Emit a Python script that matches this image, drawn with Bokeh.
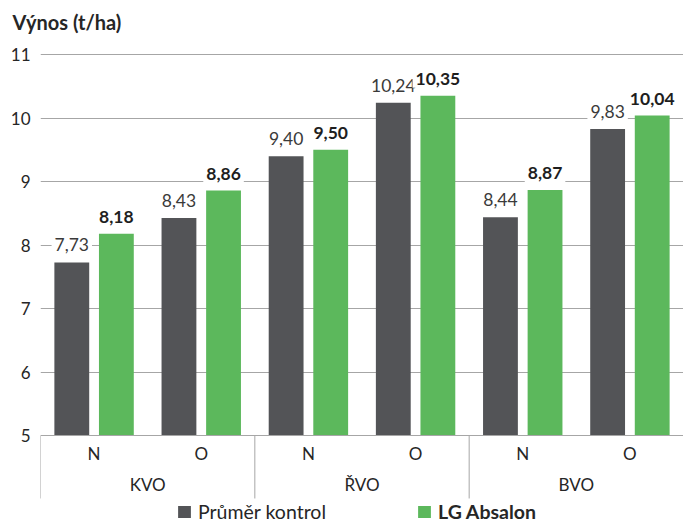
from bokeh.plotting import figure
from bokeh.models import (ColumnDataSource, FactorRange, Range1d, FixedTicker, Legend,
                          LegendItem, CategoricalAxis)
from bokeh.transform import dodge
from bokeh.core.properties import value
from bokeh.embed import file_html
from bokeh.resources import INLINE

# ---- data ----
regions = ["KVO", "ŘVO", "BVO"]
variants = ["N", "O"]
kontrol = [7.73, 8.43, 9.40, 10.24, 8.44, 9.83]
absalon = [8.18, 8.86, 9.50, 10.35, 8.87, 10.04]
y_ticks = [5, 6, 7, 8, 9, 10, 11]
series_names = ["Průměr kontrol", "LG Absalon"]
y_title = "Výnos (t/ha)"

# ---- style ----
FONT_NAME = "Lato"
FONT = value(FONT_NAME)
GRAY = "#535457"
GREEN = "#5cb85c"
GRID = "#a6a6a6"
TXT = "#262626"

PX_PER_UNIT = 63.58          # vertical scale in px per t/ha
TOP_BORDER = 40              # px above the frame
TOP_PAD = 14                 # px between frame top and the highest gridline
FRAME_H = 524 - TOP_BORDER   # frame reaches the bottom of the canvas
y_base = y_ticks[0]
y_top = y_ticks[-1] + TOP_PAD / PX_PER_UNIT
y_bottom = y_top - FRAME_H / PX_PER_UNIT
sep_bottom = y_base - 62.5 / PX_PER_UNIT

factors = [(r, v) for r in regions for v in variants]


def fmt(v):
    return f"{v:.2f}".replace(".", ",")


src = ColumnDataSource(dict(
    x=factors, k=kontrol, a=absalon,
    kl=[fmt(v) for v in kontrol], al=[fmt(v) for v in absalon],
))

p = figure(
    width=683, height=524,
    x_range=FactorRange(*factors, factor_padding=0, group_padding=0, range_padding=0),
    y_range=Range1d(y_bottom, y_top),
    output_backend="svg", toolbar_location=None,
    x_axis_location=None,
    min_border_left=40, min_border_right=0, min_border_top=TOP_BORDER, min_border_bottom=0,
)
p.outline_line_color = None
p.background_fill_color = "white"

# y axis
p.yaxis.ticker = FixedTicker(ticks=y_ticks)
p.yaxis.axis_line_color = None
p.yaxis.major_tick_line_color = None
p.yaxis.minor_tick_line_color = None
p.yaxis.major_tick_out = 0
p.yaxis.major_label_standoff = 10
p.yaxis.major_label_text_font = FONT_NAME
p.yaxis.major_label_text_font_size = "17px"
p.yaxis.major_label_text_color = TXT
p.ygrid.ticker = FixedTicker(ticks=y_ticks)
p.ygrid.grid_line_color = GRID
p.xgrid.grid_line_color = None

# x axis (categorical, drawn at y = 5)
xaxis = CategoricalAxis(
    fixed_location=y_base,
    axis_line_color=GRID,
    major_tick_line_color=None, minor_tick_line_color=None,
    major_tick_out=0,
    major_label_standoff=7,
    major_label_text_font=FONT_NAME, major_label_text_font_size="17px",
    major_label_text_color=TXT,
    group_text_font=FONT_NAME, group_text_font_size="17px",
    group_text_font_style="normal", group_text_color=TXT,
    separator_line_color=None,
)
p.add_layout(xaxis, "below")

# separators between groups
sep_x = [i * len(variants) for i in range(len(regions))]
p.segment(x0=sep_x, y0=[y_base] * len(sep_x), x1=sep_x, y1=[sep_bottom] * len(sep_x),
          line_color=GRID, line_width=1)

# bars
OFF = 0.208
W = 0.325
r1 = p.vbar(x=dodge("x", -OFF, range=p.x_range), top="k", bottom=y_base, width=W,
            source=src, fill_color=GRAY, line_color=None)
r2 = p.vbar(x=dodge("x", OFF, range=p.x_range), top="a", bottom=y_base, width=W,
            source=src, fill_color=GREEN, line_color=None)

# value labels
p.text(x=dodge("x", -OFF, range=p.x_range), y="k", text="kl", source=src,
       text_font=FONT, text_font_size="17.5px", text_color="#3a3a3a",
       text_align="center", text_baseline="bottom", y_offset=-8,
       background_fill_color="white", padding=3)
p.text(x=dodge("x", OFF, range=p.x_range), y="a", text="al", source=src,
       text_font=FONT, text_font_size="17.5px", text_font_style="bold",
       text_color="#1e1e1e",
       text_align="center", text_baseline="bottom", y_offset=-8,
       background_fill_color="white", padding=3)

# title
p.title.text = y_title
p.title.align = "left"
p.title.offset = -28
p.title.text_font = FONT_NAME
p.title.text_font_size = "20px"
p.title.text_font_style = "bold"
p.title.text_color = TXT
p.title.standoff = 14

# legends (two, so only the second is bold)
common = dict(orientation="horizontal", border_line_color=None, background_fill_alpha=0,
              padding=0, margin=0, glyph_width=16, glyph_height=15, label_standoff=6,
              label_height=20, label_text_line_height=1.0,
              label_text_font=FONT_NAME, label_text_font_size="19.5px", label_text_color=TXT)
leg1 = Legend(items=[LegendItem(label=series_names[0], renderers=[r1])],
              location=(136, 1), **common)
leg2 = Legend(items=[LegendItem(label=series_names[1], renderers=[r2])],
              location=(376, 1), label_text_font_style="bold", **common)
p.add_layout(leg1)
p.add_layout(leg2)

open("out.html", "w").write(file_html(p, INLINE))
